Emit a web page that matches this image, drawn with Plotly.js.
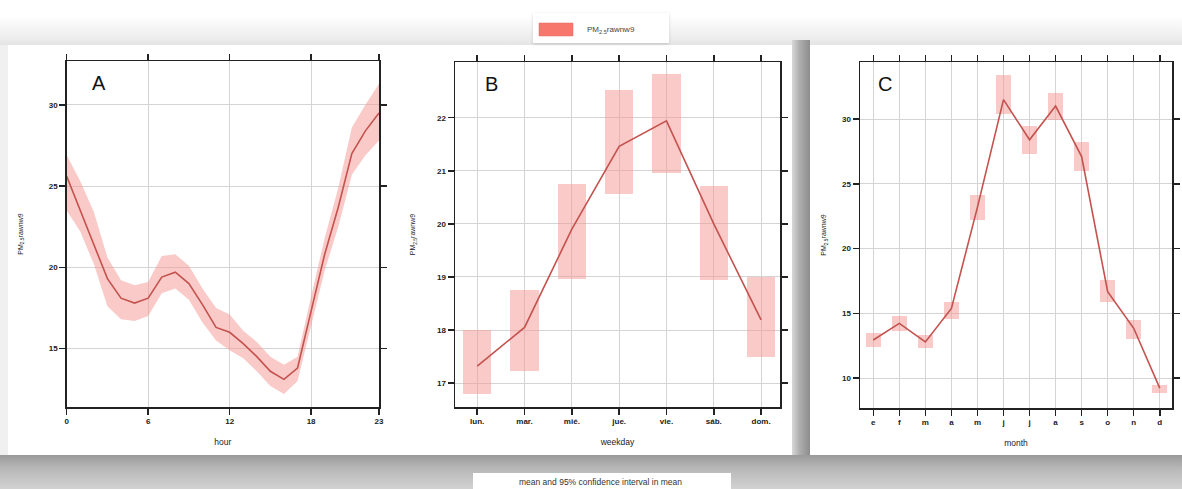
<!DOCTYPE html>
<html>
<head>
<meta charset="utf-8">
<script src="https://cdn.plot.ly/plotly-3.0.1.min.js"></script>
<style>
  html, body { margin:0; padding:0; width:1182px; height:489px; overflow:hidden; background:#fff; }
  #wrap { position:relative; width:1182px; height:489px; }
  .bg { position:absolute; }
  #chart { position:absolute; left:0; top:0; width:1182px; height:489px; }
</style>
</head>
<body>
<div id="wrap">
  <div class="bg" style="left:0;top:0;width:1182px;height:46px;background:linear-gradient(to bottom,#ffffff 0%,#ffffff 35%,#ececec 85%,#e2e2e2 100%);"></div>
  <div class="bg" style="left:0;top:45px;width:8px;height:412px;background:#f0f0f0;"></div>
  <div class="bg" style="left:8px;top:45px;width:784px;height:410px;background:#ffffff;"></div>
  <div class="bg" style="left:792px;top:40px;width:18px;height:417px;background:linear-gradient(to right,#d8d8d8 0%,#b0b0b0 40%,#8c8c8c 100%);"></div>
  <div class="bg" style="left:810px;top:45px;width:372px;height:410px;background:#ffffff;"></div>
  <div class="bg" style="left:0;top:455px;width:1182px;height:34px;background:linear-gradient(to bottom,#9a9a9a 0%,#b8b8b8 40%,#d2d2d2 100%);"></div>
  <div class="bg" style="left:473px;top:473px;width:258px;height:16px;background:#ffffff;"></div>
  <div class="bg" style="left:533px;top:13px;width:136px;height:30px;background:#ffffff;box-shadow:0 1px 3px rgba(0,0,0,0.15);"></div>
  <div id="chart"></div>
</div>
<script>
// ---------- data ----------
var hours = [0,1,2,3,4,5,6,7,8,9,10,11,12,13,14,15,16,17,18,19,20,21,22,23];
var hourMean  = [25.6,23.5,21.4,19.3,18.1,17.8,18.1,19.4,19.7,19.0,17.7,16.3,16.0,15.3,14.5,13.6,13.1,13.8,17.3,20.8,23.7,27.0,28.4,29.5];
var hourUpper = [26.9,25.3,23.4,20.6,19.2,18.9,19.1,20.7,20.8,20.1,18.7,17.5,17.1,16.1,15.4,14.5,14.0,14.5,18.2,21.8,24.9,28.6,30.0,31.3];
var hourLower = [23.5,22.2,20.2,17.6,16.8,16.7,17.0,18.4,18.7,18.0,16.6,15.5,14.9,14.4,13.6,12.7,12.2,13.0,16.4,19.8,22.5,25.7,26.9,27.8];

var weekdays = ['lun.','mar.','mié.','jue.','vie.','sáb.','dom.'];
var wdMean  = [17.32,18.05,19.9,21.46,21.94,20.0,18.19];
var wdLower = [16.79,17.22,18.96,20.57,20.96,18.94,17.5];
var wdUpper = [18.0,18.75,20.75,22.52,22.83,20.72,19.0];

var months = ['e','f','m','a','m','j','j','a','s','o','n','d'];
var mMean  = [12.95,14.23,12.8,15.38,23.2,31.5,28.4,31.0,27.1,16.67,13.85,9.23];
var mLower = [12.44,13.67,12.3,14.6,22.2,30.4,27.3,29.9,26.0,15.9,13.0,8.85];
var mUpper = [13.46,14.8,13.3,15.9,24.15,33.4,29.5,32.0,28.2,17.56,14.5,9.5];

var seriesName = 'PM<sub>2.5</sub>rawnw9';
var caption = 'mean and 95% confidence interval in mean';

// ---------- styling ----------
var W = 1182, H = 489;
function px(x){ return x / W; }
function py(y){ return 1 - y / H; }
var lineCol = '#c4524e';
var fillCol = 'rgba(243,150,146,0.5)';
var FAM = 'Liberation Sans, Arial, sans-serif';
var tickFont = {family:FAM, size:8, color:'#222', weight:'bold'};

var wdIdx = weekdays.map(function(_, i){ return i; });
var mIdx = months.map(function(_, i){ return i; });

var traces = [
  {x:hours, y:hourLower, xaxis:'x', yaxis:'y', mode:'lines', line:{width:0, color:fillCol}, showlegend:false, hoverinfo:'skip'},
  {x:hours, y:hourUpper, xaxis:'x', yaxis:'y', mode:'lines', line:{width:0, color:fillCol}, fill:'tonexty', fillcolor:fillCol, showlegend:false, hoverinfo:'skip'},
  {x:hours, y:hourMean, xaxis:'x', yaxis:'y', mode:'lines', line:{width:1.6, color:lineCol}, showlegend:false},

  {type:'bar', x:wdIdx, base:wdLower, y:wdUpper.map(function(u,i){return u - wdLower[i];}), width:0.6,
   xaxis:'x2', yaxis:'y2', marker:{color:fillCol, line:{width:0}}, showlegend:false},
  {x:wdIdx, y:wdMean, xaxis:'x2', yaxis:'y2', mode:'lines', line:{width:1.6, color:lineCol}, showlegend:false},

  {type:'bar', x:mIdx, base:mLower, y:mUpper.map(function(u,i){return u - mLower[i];}), width:0.56,
   xaxis:'x3', yaxis:'y3', marker:{color:fillCol, line:{width:0}}, showlegend:false},
  {x:mIdx, y:mMean, xaxis:'x3', yaxis:'y3', mode:'lines', line:{width:1.6, color:lineCol}, showlegend:false}
];

function xax(dom, range, tv, tt, title){
  return {domain:dom, range:range, tickvals:tv, ticktext:tt, showline:true, linecolor:'#222', linewidth:1.5,
    mirror:'ticks', ticks:'outside', ticklen:6, tickwidth:1.5, tickcolor:'#222', showgrid:true, gridcolor:'#d4d4d4', gridwidth:1,
    zeroline:false, tickfont:tickFont, title:{text:title, font:{family:FAM, size:8.5, color:'#222'}, standoff:14}};
}
function yax(dom, range, tv, anchor, standoff){
  return {domain:dom, range:range, tickvals:tv, showline:true, linecolor:'#222', linewidth:1.5,
    mirror:'ticks', ticks:'outside', ticklen:6, tickwidth:1.5, tickcolor:'#222', showgrid:true, gridcolor:'#d4d4d4', gridwidth:1,
    zeroline:false, tickfont:tickFont, anchor:anchor,
    title:{text:seriesName, font:{family:FAM, size:7, color:'#222'}, standoff:standoff}};
}

var yDomA = [py(407), py(61)];
var yDomB = [py(407), py(62)];
var yDomC = [py(408), py(62)];

var layout = {
  width:W, height:H, margin:{l:0,r:0,t:0,b:0},
  paper_bgcolor:'rgba(0,0,0,0)', plot_bgcolor:'#ffffff',
  showlegend:false, barmode:'overlay', bargap:0,
  xaxis: xax([px(66.7), px(379)], [0,23], [0,6,12,18,23], ['0','6','12','18','23'], 'hour'),
  yaxis: yax(yDomA, [11.4,32.7], [15,20,25,30], 'x', 24),
  xaxis2: Object.assign(xax([px(455), px(780)], [-0.47,6.4], wdIdx, weekdays, 'weekday'), {anchor:'y2'}),
  yaxis2: yax(yDomB, [16.55,23.05], [17,18,19,20,21,22], 'x2', 20),
  xaxis3: Object.assign(xax([px(860), px(1172)], [-0.51,11.47], mIdx, months, 'month'), {anchor:'y3'}),
  yaxis3: yax(yDomC, [7.7,34.4], [10,15,20,25,30], 'x3', 14),
  shapes: [
    {type:'rect', xref:'paper', yref:'paper', x0:px(539), x1:px(573), y0:py(36), y1:py(23),
     fillcolor:'#f8776c', line:{width:0.5, color:'#e06a60'}}
  ],
  annotations: [
    {text:'A', xref:'x domain', yref:'y domain', x:0.075, y:0.935, xanchor:'left', yanchor:'middle', showarrow:false,
     font:{family:FAM, size:20, color:'#111'}},
    {text:'B', xref:'x2 domain', yref:'y2 domain', x:0.085, y:0.935, xanchor:'left', yanchor:'middle', showarrow:false,
     font:{family:FAM, size:20, color:'#111'}},
    {text:'C', xref:'x3 domain', yref:'y3 domain', x:0.05, y:0.935, xanchor:'left', yanchor:'middle', showarrow:false,
     font:{family:FAM, size:20, color:'#111'}},
    {text:seriesName, xref:'paper', yref:'paper', x:px(585), y:py(30), xanchor:'left', yanchor:'middle', showarrow:false,
     font:{family:FAM, size:8, color:'#444'}},
    {text:caption, xref:'paper', yref:'paper', x:px(600), y:py(482), xanchor:'center', yanchor:'middle', showarrow:false,
     font:{family:FAM, size:8.5, color:'#333'}}
  ]
};

Plotly.newPlot('chart', traces, layout, {displayModeBar:false, staticPlot:true});
</script>
</body>
</html>
